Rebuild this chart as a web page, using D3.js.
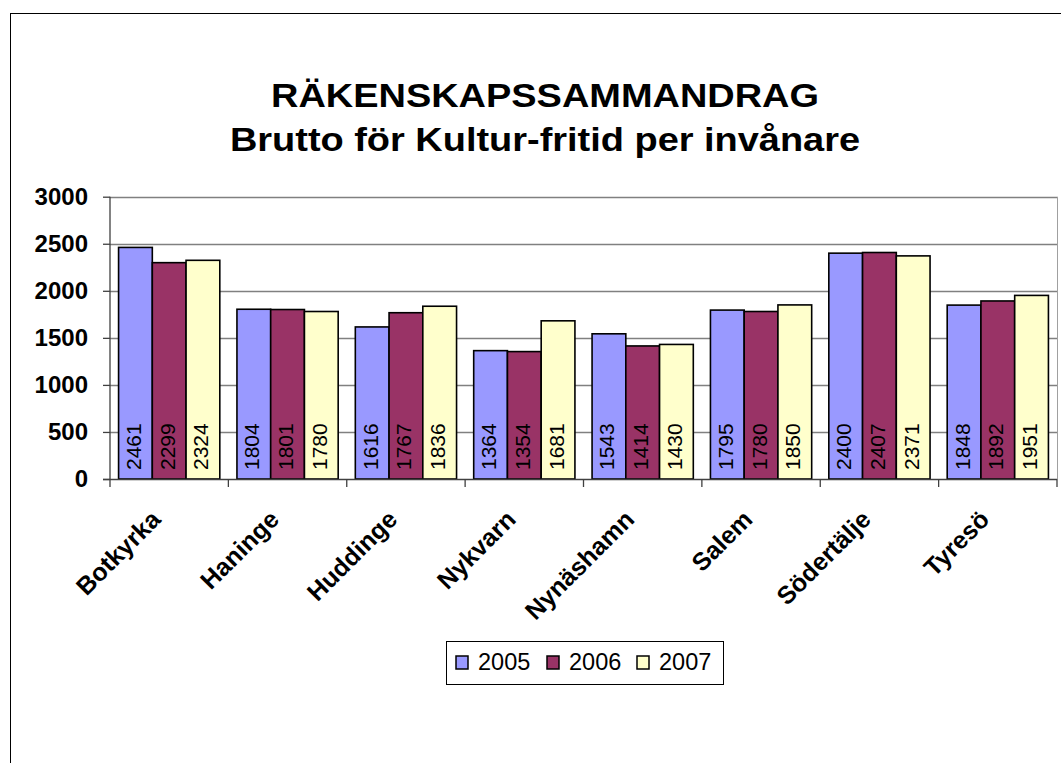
<!DOCTYPE html>
<html>
<head>
<meta charset="utf-8">
<script src="https://cdn.jsdelivr.net/npm/d3@7"></script>
<style>
  body { margin: 0; background: #fff; }
  svg { display: block; font-family: "Liberation Sans", Arial, sans-serif; }
</style>
</head>
<body>
<div id="chart"></div>
<script>
const categories = ["Botkyrka", "Haninge", "Huddinge", "Nykvarn", "Nynäshamn", "Salem", "Södertälje", "Tyresö"];
const years = ["2005", "2006", "2007"];
const values2005 = [2461, 1804, 1616, 1364, 1543, 1795, 2400, 1848];
const values2006 = [2299, 1801, 1767, 1354, 1414, 1780, 2407, 1892];
const values2007 = [2324, 1780, 1836, 1681, 1430, 1850, 2371, 1951];
const yTicks = [0, 500, 1000, 1500, 2000, 2500, 3000];
const colors = ["#9999FF", "#993366", "#FFFFCC"];

const series = [values2005, values2006, values2007];
const rows = categories.map((c, i) => ({ name: c, vals: series.map(s => s[i]) }));

const svg = d3.select("#chart")
  .append("svg")
  .attr("width", 1061)
  .attr("height", 763);

// outer chart border (runs off right/bottom)
svg.append("rect")
  .attr("x", 10.5).attr("y", 13.5)
  .attr("width", 1100).attr("height", 800)
  .attr("fill", "none").attr("stroke", "#000").attr("stroke-width", 1);

const plotL = 110, plotR = 1057, plotT = 196.7, plotB = 479;

const x = d3.scaleBand()
  .domain(categories)
  .range([plotL, plotR])
  .paddingInner(0)
  .paddingOuter(0);

const x1 = d3.scaleBand()
  .domain(years)
  .range([0, x.bandwidth()])
  .paddingInner(0)
  .paddingOuter(0.254);

const y = d3.scaleLinear()
  .domain([0, 3000])
  .range([plotB, plotT]);

// gridlines
svg.append("g")
  .selectAll("line")
  .data(yTicks.filter(d => d > 0))
  .enter()
  .append("line")
  .attr("x1", plotL).attr("x2", plotR)
  .attr("y1", d => Math.round(y(d)) + 0.5).attr("y2", d => Math.round(y(d)) + 0.5)
  .attr("stroke", "#808080").attr("stroke-width", 1.3);

// right border of plot
svg.append("line")
  .attr("x1", plotR + 0.5).attr("x2", plotR + 0.5)
  .attr("y1", y(3000)).attr("y2", plotB)
  .attr("stroke", "#a0a0a0").attr("stroke-width", 1);

// bars
const groups = svg.append("g")
  .selectAll("g")
  .data(rows)
  .enter()
  .append("g")
  .attr("transform", d => `translate(${x(d.name)},0)`);

groups.selectAll("rect")
  .data(d => d.vals.map((v, i) => ({ year: years[i], v, i })))
  .enter()
  .append("rect")
  .attr("x", d => x1(d.year))
  .attr("y", d => y(d.v))
  .attr("width", x1.bandwidth())
  .attr("height", d => plotB - y(d.v))
  .attr("fill", d => colors[d.i])
  .attr("stroke", "#000")
  .attr("stroke-width", 1.6);

groups.selectAll("text")
  .data(d => d.vals.map((v, i) => ({ year: years[i], v, i })))
  .enter()
  .append("text")
  .attr("transform", d => `translate(${x1(d.year) + x1.bandwidth() / 2 + 5.5},${plotB - 9}) rotate(-90)`)
  .attr("font-size", 21)
  .attr("fill", "#000")
  .text(d => d.v);

// y axis
const yAxis = svg.append("g")
  .attr("transform", `translate(${plotL},0)`)
  .call(d3.axisLeft(y).tickValues(yTicks).tickSize(7).tickPadding(15).tickFormat(d3.format("d")));
yAxis.selectAll("text").attr("font-size", 24).attr("font-weight", "bold").attr("fill", "#000")
  .attr("font-family", "'Liberation Sans', Arial, sans-serif");
yAxis.selectAll("line").attr("stroke", "#404040").attr("stroke-width", 1.3);
yAxis.select(".domain").attr("stroke", "#404040").attr("stroke-width", 1.3).attr("d", `M0,${plotT}V${plotB}`);

// x axis
const xAxis = svg.append("g")
  .attr("transform", `translate(0,${plotB})`);
xAxis.append("line")
  .attr("x1", plotL - 7).attr("x2", plotR)
  .attr("y1", 0.5).attr("y2", 0.5)
  .attr("stroke", "#404040").attr("stroke-width", 1.3);
xAxis.selectAll(".tick")
  .data(d3.range(categories.length + 1))
  .enter()
  .append("line")
  .attr("x1", i => plotL + i * x.bandwidth()).attr("x2", i => plotL + i * x.bandwidth())
  .attr("y1", 0).attr("y2", 8)
  .attr("stroke", "#404040").attr("stroke-width", 1.3);
xAxis.selectAll(".cat")
  .data(categories)
  .enter()
  .append("text")
  .attr("class", "cat")
  .attr("text-anchor", "end")
  .attr("transform", d => `translate(${x(d) + x.bandwidth() / 2 - 7},${42}) rotate(-45)`)
  .attr("font-size", 25)
  .attr("font-weight", "bold")
  .attr("fill", "#000")
  .text(d => d);

// title
const title = svg.append("text")
  .attr("text-anchor", "middle")
  .attr("font-weight", "bold")
  .attr("font-size", 33)
  .attr("fill", "#000")
  .attr("transform", "translate(545,0) scale(1.15,1)");
title.append("tspan").attr("x", 0).attr("y", 107).text("RÄKENSKAPSSAMMANDRAG");
title.append("tspan").attr("x", 0).attr("y", 151).text("Brutto för Kultur-fritid per invånare");

// legend
const legend = svg.append("g");
legend.append("rect")
  .attr("x", 446.5).attr("y", 641.5)
  .attr("width", 277).attr("height", 43)
  .attr("fill", "#fff").attr("stroke", "#000").attr("stroke-width", 1);
const legendX = [456, 547, 637];
const items = legend.selectAll(".item")
  .data(years)
  .enter()
  .append("g")
  .attr("transform", (d, i) => `translate(${legendX[i]},656)`);
items.append("rect")
  .attr("width", 12).attr("height", 13)
  .attr("fill", (d, i) => colors[i])
  .attr("stroke", "#000").attr("stroke-width", 1.5);
items.append("text")
  .attr("x", 22).attr("y", 13.5)
  .attr("font-size", 23.5)
  .attr("fill", "#000")
  .text(d => d);
</script>
</body>
</html>
